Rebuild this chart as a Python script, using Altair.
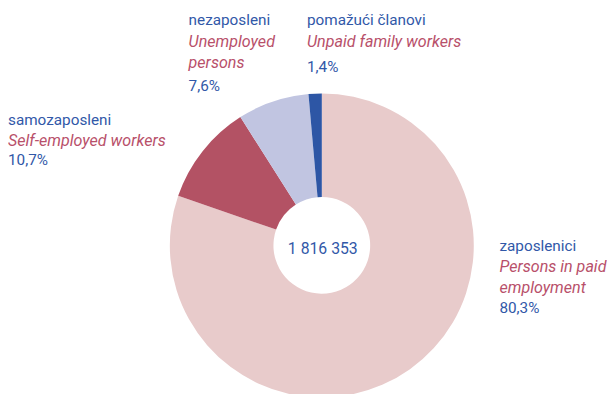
import altair as alt
import pandas as pd

# ---- data ----
categories_hr = ["zaposlenici", "samozaposleni", "nezaposleni", "pomažući članovi"]
categories_en = ["Persons in paid employment", "Self-employed workers", "Unemployed persons", "Unpaid family workers"]
en_lines = [["Persons in paid", "employment"], ["Self-employed workers"], ["Unemployed", "persons"], ["Unpaid family workers"]]
shares = [80.3, 10.7, 7.6, 1.4]
share_labels = ["80,3%", "10,7%", "7,6%", "1,4%"]
total_label = "1 816 353"
colors = ["#E8CBCB", "#B35264", "#C1C5E1", "#2D56A5"]

df = pd.DataFrame({
    "hr": categories_hr,
    "en": categories_en,
    "share": shares,
    "order": list(range(len(shares))),
})

# ---- layout (pixel positions of annotation blocks; chart coords) ----
CX, CY = 318, 238
label_pos = {  # x, first-line baseline, english baseline, percent baseline
    "zaposlenici": (498, 244, 265, 307),
    "samozaposleni": (0, 116, 137, 157),
    "nezaposleni": (183, 15, 37, 82),
    "pomažući članovi": (303, 15, 37, 62),
}
FONT = "Roboto"
BLUE = "#3158A8"
RED = "#B8506A"
FS = 15.5
FS_IT = 16.3

base = alt.Chart(df)

arc = base.mark_arc(innerRadius=49, outerRadius=154).encode(
    theta=alt.Theta("share:Q", stack=True),
    order=alt.Order("order:Q"),
    color=alt.Color("hr:N", scale=alt.Scale(domain=categories_hr, range=colors), legend=None),
    x=alt.value(CX),
    y=alt.value(CY),
)

layers = [arc]
center = alt.Chart(pd.DataFrame({"t": [total_label]})).mark_text(
    font=FONT, fontSize=16, color=BLUE, align="center", baseline="alphabetic"
).encode(text="t:N", x=alt.value(CX + 1), y=alt.value(CY + 9))
layers.append(center)

for i, name in enumerate(categories_hr):
    x, y1, y2, y3 = label_pos[name]
    sub = pd.DataFrame({"hr": [name], "en": ["\n".join(en_lines[i])], "pct": [share_labels[i]]})
    c = alt.Chart(sub)
    layers.append(c.mark_text(font=FONT, fontSize=FS, color=BLUE, align="left", baseline="alphabetic")
                  .encode(text="hr:N", x=alt.value(x), y=alt.value(y1)))
    layers.append(c.mark_text(font=FONT, fontSize=FS_IT, color=RED, fontStyle="italic", align="left",
                              baseline="alphabetic", lineBreak="\n", lineHeight=21)
                  .encode(text="en:N", x=alt.value(x), y=alt.value(y2)))
    layers.append(c.mark_text(font=FONT, fontSize=FS, color=BLUE, align="left", baseline="alphabetic")
                  .encode(text="pct:N", x=alt.value(x), y=alt.value(y3)))

chart = alt.layer(*layers).properties(
    width=607, height=386, autosize=alt.AutoSizeParams(type="none"), padding=0
).configure_view(stroke=None)

chart.save("out.html", embed_options={"renderer": "svg", "actions": False})
